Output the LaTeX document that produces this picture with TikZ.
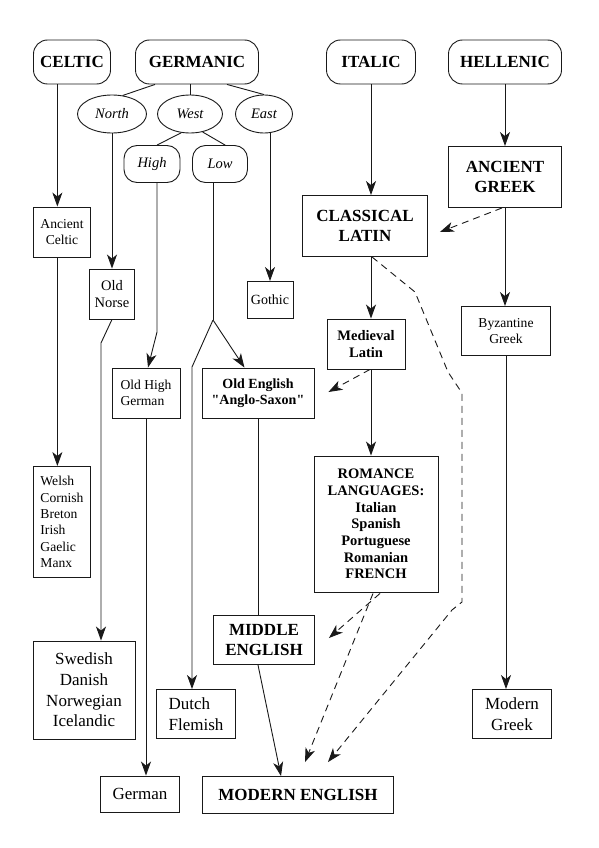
\documentclass[tikz,border=0pt]{standalone}
\usepackage{fontspec}
\setmainfont{Liberation Serif}[Ligatures=TeXOff]
\usetikzlibrary{arrows.meta, calc, shapes.geometric}

\begin{document}
\begin{tikzpicture}[x=1pt, y=-1pt, line width=0.9pt, draw=black!90,
    family/.style={draw, rounded corners=14pt, inner sep=0pt, minimum height=44pt, font=\bfseries\fontsize{17}{20}\selectfont},
    branch/.style={draw, ellipse, inner sep=0pt, minimum height=38pt, font=\itshape\fontsize{14.5}{17}\selectfont},
    subbranch/.style={draw, rounded corners=13pt, inner sep=0pt, minimum height=37pt, font=\itshape\fontsize{14.5}{17}\selectfont},
    lang/.style={draw, inner sep=0pt, align=center, font=\fontsize{13.6}{16.3}\selectfont},
    biglang/.style={lang, font=\fontsize{17}{20.7}\selectfont},
    boldlang/.style={lang, font=\bfseries\fontsize{14.5}{16.7}\selectfont},
    bigbold/.style={lang, font=\bfseries\fontsize{17}{20}\selectfont},
    arr/.style={-{Stealth[length=14pt, width=10pt, inset=4pt]}},
    darr/.style={arr, dash pattern=on 7pt off 5pt}]
    \useasboundingbox (0,0) rectangle (599,848);

    % Families
    \node[family, minimum width=77pt] (celtic) at (72,62) {CELTIC};
    \node[family, minimum width=123pt] (germanic) at (197,62) {GERMANIC};
    \node[family, minimum width=89pt] (italic) at (371,62) {ITALIC};
    \node[family, minimum width=113pt] (hellenic) at (505,62) {HELLENIC};

    % Germanic branches
    \node[branch, minimum width=69pt] (north) at (112,114) {North};
    \node[branch, minimum width=65pt] (west) at (190,114) {West};
    \node[branch, minimum width=57pt] (east) at (264,114) {East};
    \node[subbranch, minimum width=56pt] (high) at (152,164) {High};
    \node[subbranch, minimum width=55pt] (low) at (220,164) {Low};

    % Languages
    \node[lang, minimum width=57pt, minimum height=50pt] (ancelt) at (62,232) {Ancient\\Celtic};
    \node[lang, minimum width=45pt, minimum height=50pt, font=\fontsize{14.5}{17}\selectfont] (oldnorse) at (112,294) {Old\\Norse};
    \node[lang, minimum width=46pt, minimum height=37pt, font=\fontsize{14}{16}\selectfont] (gothic) at (270,300) {Gothic};
    \node[lang, align=left, minimum width=68pt, minimum height=50pt] (ohg) at (146,393) {Old High\\German};
    \node[boldlang, font=\bfseries\fontsize{14}{16.5}\selectfont, minimum width=112pt, minimum height=50pt] (oldeng) at (258,393) {Old English\\"Anglo-Saxon"};
    \node[lang, align=left, minimum width=57pt, minimum height=111pt] (welsh) at (62,522) {Welsh\\Cornish\\Breton\\Irish\\Gaelic\\Manx};
    \node[biglang, minimum width=102pt, minimum height=98pt] (swedish) at (84,690) {Swedish\\Danish\\Norwegian\\Icelandic};
    \node[biglang, minimum width=79pt, minimum height=36pt] (german) at (140,794) {German};
    \node[biglang, align=left, minimum width=79pt, minimum height=49pt] (dutch) at (196,714) {Dutch\\Flemish};
    \node[bigbold, minimum width=101pt, minimum height=49pt] (middle) at (264,640) {MIDDLE\\ENGLISH};
    \node[bigbold, minimum width=191pt, minimum height=37pt] (modern) at (298,795) {MODERN ENGLISH};
    \node[bigbold, minimum width=125pt, minimum height=61pt] (classlat) at (365,226) {CLASSICAL\\LATIN};
    \node[bigbold, minimum width=113pt, minimum height=61pt] (ancgreek) at (505,177) {ANCIENT\\GREEK};
    \node[lang, minimum width=89pt, minimum height=49pt] (byz) at (506,331) {Byzantine\\Greek};
    \node[boldlang, minimum width=78pt, minimum height=50pt] (medlat) at (366,344) {Medieval\\Latin};
    \node[boldlang, minimum width=124pt, minimum height=136pt] (romance) at (376,524) {ROMANCE\\LANGUAGES:\\Italian\\Spanish\\Portuguese\\Romanian\\FRENCH};
    \node[biglang, minimum width=79pt, minimum height=49pt] (modgreek) at (512,714) {Modern\\Greek};

    % Germanic tree
    \draw ($(germanic.south)+(-42,0)$) -- (north.60);
    \draw (west.north |- germanic.south) -- (west.north);
    \draw ($(germanic.south)+(30,0)$) -- (east.north);
    \draw (west.-115) -- (high.75);
    \draw (west.-55) -- (low.75);

    % Celtic line
    \coordinate (cline) at ($(ancelt.north west)!0.42!(ancelt.north east)$);
    \draw[arr] (celtic.south -| cline) -- (cline);
    \draw[arr] (ancelt.south -| cline) -- (welsh.north -| cline);

    % North and East
    \coordinate (nbend) at (101,343);
    \draw[arr] (north.south) -- (oldnorse.north);
    \draw[arr] (oldnorse.south) -- (nbend) -- (nbend |- swedish.north);
    \draw[arr] (east.south -| gothic.north) -- (gothic.north);

    % High and Low
    \coordinate (hbend) at (157,332);
    \coordinate (lowsplit) at (213,320);
    \coordinate (dbend) at (192,367);
    \draw[arr] (high.south -| hbend) -- (hbend) -- ($(ohg.north)+(2,0)$);
    \draw (low.south -| lowsplit) -- (lowsplit);
    \draw[arr] (lowsplit) -- (dbend) -- (dbend |- dutch.north);
    \draw[arr] (lowsplit) -- ($(oldeng.north west)!0.38!(oldeng.north east)$);
    \draw[arr] (ohg.south) -- (ohg.south |- german.north);
    \draw (oldeng.south) -- (oldeng.south |- middle.north);
    \draw[arr] ($(middle.south)+(-6,0)$) -- ($(modern.north)+(-17,0)$);

    % Italic and Hellenic
    \draw[arr] (italic.south) -- (italic.south |- classlat.north);
    \draw[arr] (italic.south |- classlat.south) -- (italic.south |- medlat.north);
    \draw[arr] (italic.south |- medlat.south) -- (italic.south |- romance.north);
    \draw[arr] (hellenic.south) -- (ancgreek.north);
    \draw[arr] (ancgreek.south) -- (ancgreek.south |- byz.north);
    \draw[arr] (byz.south) -- (byz.south |- modgreek.north);

    % Borrowings
    \draw[darr] ($(ancgreek.south)+(-3,0)$) -- ($(classlat.east)+(12,6)$);
    \draw[darr] ($(medlat.south)+(4,0)$) -- ($(oldeng.east)+(14,-1)$);
    \draw[darr] ($(romance.south)+(4,1)$) -- ($(middle.east)+(14,-2)$);
    \draw[darr] ($(romance.south)+(-3,1)$) -- ($(modern.north)+(7,-14)$);
    \draw[darr] ($(classlat.south)+(7,0)$) -- (415,292) -- (448,372) -- (462,393) -- (462,602) -- (452,610) -- ($(modern.north)+(30,-14)$);
\end{tikzpicture}
\end{document}
